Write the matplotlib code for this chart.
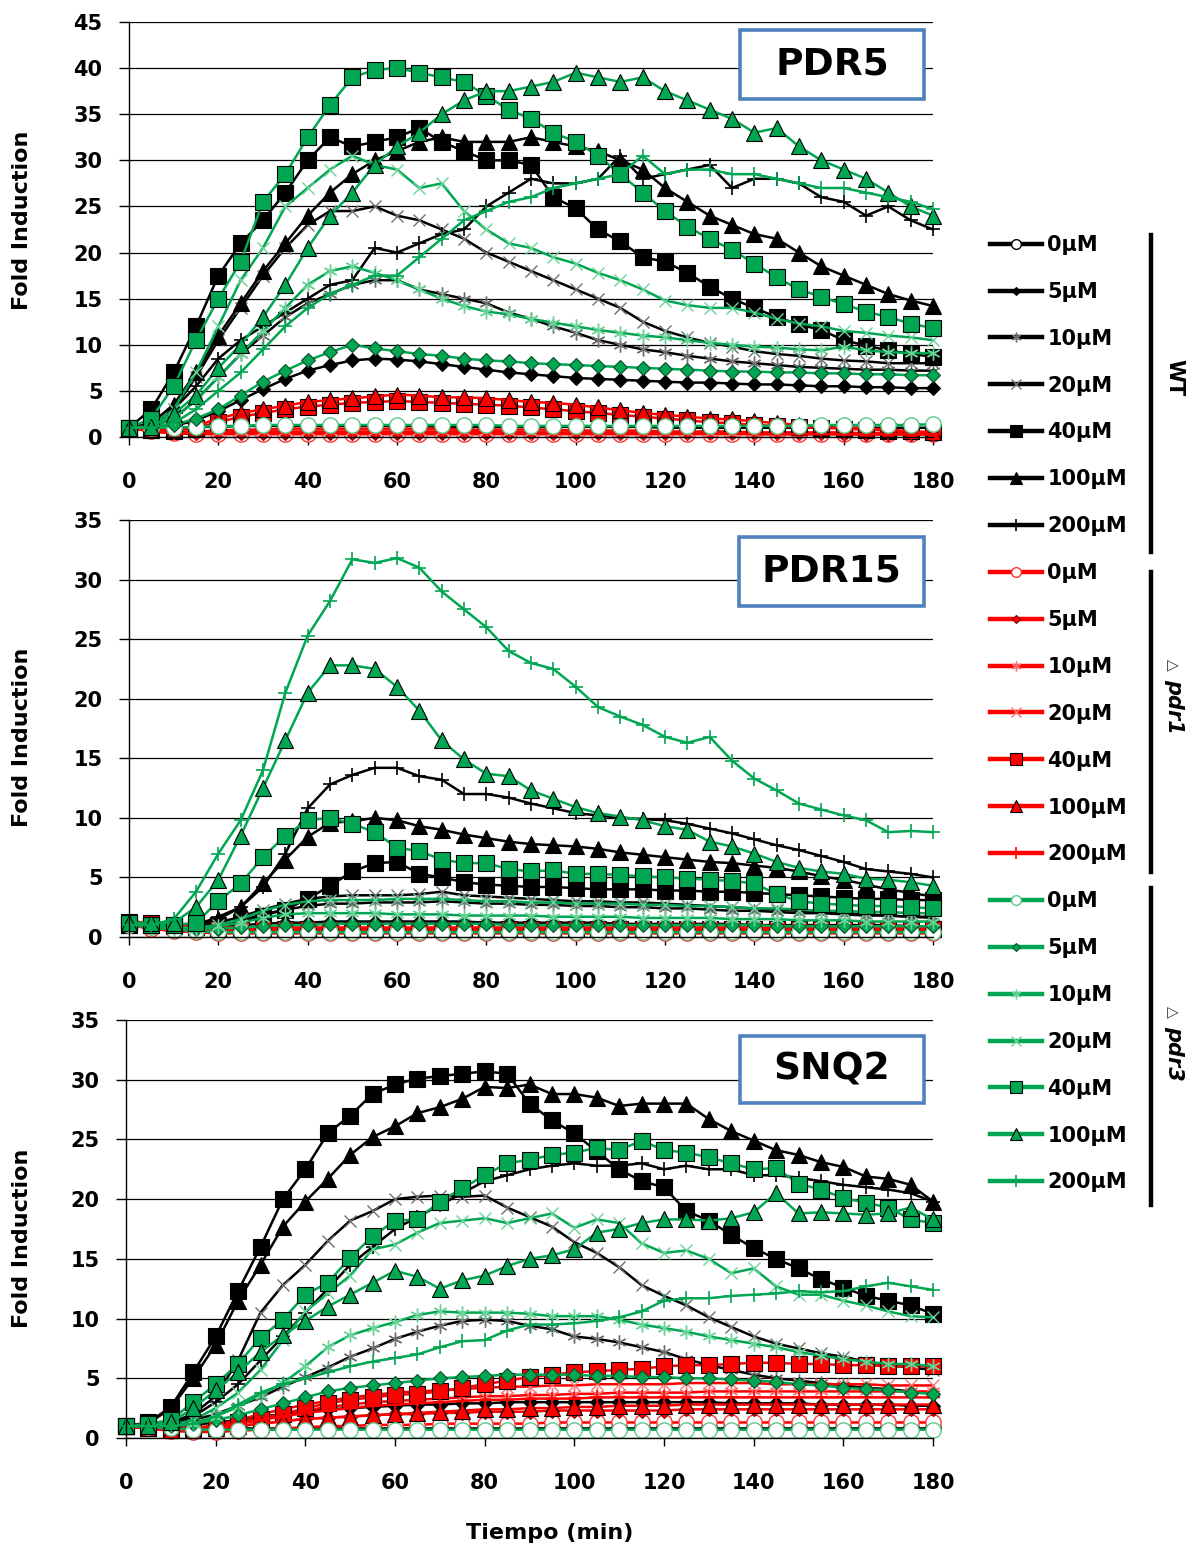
import matplotlib
matplotlib.use("Agg")
import matplotlib.pyplot as plt
from matplotlib.lines import Line2D
from matplotlib.patches import Rectangle

W, H = 1194, 1548

TIME_MIN = list(range(0, 185, 5))
CONCENTRATIONS = ["0μM", "5μM", "10μM", "20μM", "40μM", "100μM", "200μM"]
STRAINS = ["WT", "d1", "d3"]
GENES = ["PDR5", "PDR15", "SNQ2"]
GENE_YMAX = [45, 35, 35]

# ---------------- PDR5 ----------------
pdr5_wt_0 = [1.0, 1.0, 1.0, 1.1, 1.1, 1.2, 1.2, 1.2, 1.2, 1.2,
             1.2, 1.2, 1.2, 1.2, 1.1, 1.1, 1.1, 1.1, 1.1, 1.1,
             1.1, 1.1, 1.1, 1.1, 1.0, 1.0, 1.0, 1.0, 1.0, 1.0,
             1.0, 1.0, 1.0, 1.0, 1.0, 1.0, 1.0]
pdr5_wt_5 = [1.0, 1.0, 1.2, 1.8, 2.8, 4.0, 5.2, 6.3, 7.2, 7.8,
             8.3, 8.5, 8.4, 8.2, 7.9, 7.6, 7.3, 7.0, 6.8, 6.6,
             6.4, 6.3, 6.2, 6.1, 6.0, 5.9, 5.9, 5.8, 5.7, 5.7,
             5.6, 5.5, 5.5, 5.4, 5.4, 5.3, 5.3]
pdr5_wt_10 = [1.0, 1.1, 2.0, 4.0, 6.5, 9.0, 11.0, 13.0, 14.5, 15.5,
              16.5, 17.0, 17.0, 16.0, 15.5, 15.0, 14.5, 13.5, 12.8, 12.0,
              11.3, 10.5, 10.0, 9.5, 9.2, 8.8, 8.5, 8.2, 8.0, 7.8,
              7.6, 7.5, 7.4, 7.3, 7.3, 7.2, 7.2]
pdr5_wt_20 = [1.0, 1.2, 3.0, 6.5, 10.5, 14.0, 17.5, 20.5, 23.0, 24.5,
              24.5, 25.0, 24.0, 23.5, 22.5, 21.5, 20.0, 19.0, 18.0, 17.0,
              16.0, 15.0, 14.0, 12.5, 11.5, 10.8, 10.2, 9.8, 9.3, 9.0,
              8.8, 8.5, 8.3, 8.2, 8.0, 8.0, 8.0]
pdr5_wt_40 = [1.0, 3.0, 7.0, 12.0, 17.5, 21.0, 23.5, 26.5, 30.0, 32.5,
              31.5, 32.0, 32.5, 33.5, 32.0, 31.0, 30.0, 30.0, 29.5, 26.0,
              24.8, 22.5, 21.2, 19.5, 19.0, 17.8, 16.3, 15.0, 14.0, 13.0,
              12.2, 11.6, 10.5, 9.9, 9.4, 9.0, 8.7]
pdr5_wt_100 = [1.0, 1.5, 3.5, 7.0, 11.0, 14.5, 18.0, 21.0, 24.0, 26.5,
               28.5, 30.0, 31.0, 32.0, 32.5, 32.0, 32.0, 32.0, 32.5, 32.0,
               31.5, 31.0, 30.0, 29.0, 27.0, 25.5, 24.0, 23.0, 22.0, 21.5,
               20.0, 18.5, 17.5, 16.5, 15.5, 14.8, 14.2]
pdr5_wt_200 = [1.0, 1.2, 3.0, 5.5, 8.5, 10.5, 12.0, 13.5, 15.0, 16.5,
               17.0, 20.5, 20.0, 21.0, 22.0, 22.5, 25.0, 26.5, 28.0, 27.5,
               27.5, 28.0, 30.5, 28.0, 28.5, 29.0, 29.5, 27.0, 28.0, 28.0,
               27.5, 26.0, 25.5, 24.0, 25.0, 23.5, 22.5]
pdr5_d1_0 = [1.0, 0.6, 0.4, 0.3, 0.3, 0.3, 0.3, 0.3, 0.3, 0.3,
             0.3, 0.3, 0.3, 0.3, 0.3, 0.3, 0.3, 0.3, 0.3, 0.3,
             0.3, 0.3, 0.3, 0.3, 0.3, 0.3, 0.3, 0.3, 0.3, 0.3,
             0.3, 0.3, 0.3, 0.3, 0.3, 0.3, 0.3]
pdr5_d1_5 = [1.0, 0.7, 0.5, 0.4, 0.4, 0.4, 0.4, 0.4, 0.4, 0.4,
             0.4, 0.4, 0.4, 0.4, 0.4, 0.4, 0.4, 0.4, 0.4, 0.4,
             0.4, 0.4, 0.4, 0.4, 0.4, 0.4, 0.4, 0.4, 0.4, 0.4,
             0.4, 0.4, 0.3, 0.3, 0.3, 0.3, 0.3]
pdr5_d1_10 = [1.0, 0.7, 0.5, 0.5, 0.5, 0.6, 0.6, 0.6, 0.6, 0.6,
              0.6, 0.6, 0.6, 0.6, 0.6, 0.6, 0.6, 0.5, 0.5, 0.5,
              0.5, 0.5, 0.5, 0.5, 0.5, 0.5, 0.4, 0.4, 0.4, 0.4,
              0.4, 0.4, 0.4, 0.4, 0.4, 0.4, 0.4]
pdr5_d1_20 = [1.0, 0.7, 0.6, 0.6, 0.7, 0.8, 0.8, 0.9, 0.9, 0.9,
              0.9, 0.9, 0.9, 0.9, 0.9, 0.8, 0.8, 0.8, 0.8, 0.8,
              0.7, 0.7, 0.7, 0.7, 0.6, 0.6, 0.6, 0.6, 0.5, 0.5,
              0.5, 0.5, 0.5, 0.4, 0.4, 0.4, 0.4]
pdr5_d1_40 = [1.0, 0.8, 0.7, 1.0, 1.6, 2.2, 2.6, 3.0, 3.3, 3.5,
              3.7, 3.8, 3.9, 3.8, 3.7, 3.6, 3.5, 3.4, 3.2, 3.0,
              2.8, 2.6, 2.4, 2.2, 2.0, 1.8, 1.6, 1.5, 1.3, 1.2,
              1.1, 1.0, 0.9, 0.8, 0.7, 0.6, 0.5]
pdr5_d1_100 = [1.0, 0.8, 0.8, 1.2, 2.0, 2.6, 3.0, 3.4, 3.8, 4.0,
               4.2, 4.4, 4.6, 4.5, 4.3, 4.3, 4.2, 4.0, 3.8, 3.7,
               3.5, 3.2, 2.9, 2.6, 2.4, 2.2, 2.0, 1.9, 1.7, 1.5,
               1.3, 1.1, 1.0, 0.9, 0.8, 0.6, 0.5]
pdr5_d1_200 = [1.0, 0.6, 0.4, 0.4, 0.4, 0.5, 0.5, 0.5, 0.5, 0.5,
               0.5, 0.5, 0.5, 0.5, 0.5, 0.5, 0.5, 0.5, 0.5, 0.4,
               0.4, 0.4, 0.4, 0.4, 0.4, 0.4, 0.4, 0.4, 0.3, 0.3,
               0.3, 0.3, 0.3, 0.3, 0.3, 0.3, 0.3]
pdr5_d3_0 = [1.0, 1.0, 1.0, 1.1, 1.2, 1.2, 1.3, 1.3, 1.3, 1.3,
             1.3, 1.3, 1.3, 1.3, 1.3, 1.3, 1.3, 1.2, 1.2, 1.2,
             1.2, 1.2, 1.2, 1.2, 1.2, 1.2, 1.2, 1.2, 1.2, 1.2,
             1.2, 1.3, 1.3, 1.3, 1.3, 1.3, 1.4]
pdr5_d3_5 = [1.0, 1.0, 1.3, 2.0, 3.0, 4.5, 6.0, 7.2, 8.3, 9.2,
             10.0, 9.6, 9.3, 9.0, 8.8, 8.5, 8.3, 8.2, 8.0, 7.9,
             7.8, 7.7, 7.6, 7.5, 7.4, 7.3, 7.2, 7.1, 7.1, 7.0,
             7.0, 6.9, 6.9, 6.8, 6.8, 6.7, 6.7]
pdr5_d3_10 = [1.0, 1.1, 2.0, 4.0, 6.5, 9.0, 11.5, 14.0, 16.5, 18.0,
              18.5, 17.8, 17.0, 16.0, 15.0, 14.2, 13.6, 13.3, 12.8, 12.4,
              12.0, 11.6, 11.3, 11.0, 10.8, 10.5, 10.2, 10.0, 9.8, 9.7,
              9.5, 9.4, 9.8, 9.4, 9.2, 9.1, 9.1]
pdr5_d3_20 = [1.0, 1.2, 3.0, 7.0, 12.0, 17.0, 20.5, 25.0, 27.0, 29.0,
              30.5, 29.5, 29.0, 27.0, 27.5, 24.5, 22.5, 21.0, 20.5, 19.5,
              18.8, 17.8, 17.0, 16.0, 14.8, 14.3, 14.0, 14.0, 13.5, 12.8,
              12.3, 12.0, 11.5, 11.3, 11.0, 10.8, 10.5]
pdr5_d3_40 = [1.0, 2.0, 5.5, 10.5, 15.0, 19.0, 25.5, 28.5, 32.5, 36.0,
              39.0, 39.8, 40.0, 39.5, 39.0, 38.5, 37.0, 35.5, 34.5, 33.0,
              32.0, 30.5, 28.5, 26.5, 24.5, 22.8, 21.5, 20.3, 18.8, 17.3,
              16.0, 15.2, 14.4, 13.6, 13.0, 12.3, 11.8]
pdr5_d3_100 = [1.0, 1.1, 2.5, 4.5, 7.5, 10.0, 13.0, 16.5, 20.5, 24.0,
               26.5, 29.5, 31.5, 33.0, 35.0, 36.5, 37.5, 37.5, 38.0, 38.5,
               39.5, 39.0, 38.5, 39.0, 37.5, 36.5, 35.5, 34.5, 33.0, 33.5,
               31.5, 30.0, 29.0, 28.0, 26.5, 25.0, 24.0]
pdr5_d3_200 = [1.0, 1.0, 1.5, 3.0, 5.0, 7.0, 9.5, 12.0, 14.0, 15.5,
               16.5, 17.5, 17.5, 19.5, 21.5, 23.5, 24.5, 25.5, 26.0, 27.0,
               27.5, 28.0, 28.5, 30.5, 28.5, 29.0, 29.0, 28.5, 28.5, 28.0,
               27.5, 27.0, 27.0, 26.5, 26.0, 25.5, 24.7]

# ---------------- PDR15 ----------------
pdr15_wt_0 = [1.0, 0.8, 0.7, 0.6, 0.6, 0.6, 0.6, 0.6, 0.6, 0.6,
              0.6, 0.6, 0.6, 0.6, 0.6, 0.6, 0.6, 0.6, 0.6, 0.6,
              0.6, 0.6, 0.6, 0.6, 0.6, 0.6, 0.6, 0.6, 0.6, 0.6,
              0.6, 0.6, 0.6, 0.6, 0.6, 0.6, 0.6]
pdr15_wt_5 = [1.0, 0.9, 0.8, 0.8, 0.9, 1.0, 1.1, 1.2, 1.2, 1.3,
              1.3, 1.3, 1.3, 1.3, 1.3, 1.3, 1.2, 1.2, 1.2, 1.2,
              1.2, 1.2, 1.1, 1.1, 1.1, 1.1, 1.1, 1.1, 1.0, 1.0,
              1.0, 1.0, 1.0, 1.0, 1.0, 0.9, 0.9]
pdr15_wt_10 = [1.0, 0.9, 0.8, 0.8, 1.0, 1.4, 1.9, 2.3, 2.6, 2.8,
               2.8, 2.9, 2.9, 2.9, 3.0, 2.9, 2.8, 2.8, 2.7, 2.7,
               2.6, 2.6, 2.5, 2.5, 2.4, 2.4, 2.3, 2.2, 2.2, 2.1,
               2.0, 2.0, 1.9, 1.8, 1.8, 1.7, 1.7]
pdr15_wt_20 = [1.0, 1.0, 0.8, 0.9, 1.2, 1.7, 2.3, 2.8, 3.2, 3.4,
               3.5, 3.5, 3.5, 3.6, 3.8, 3.5, 3.4, 3.3, 3.2, 3.1,
               3.0, 3.0, 2.9, 2.9, 2.8, 2.7, 2.6, 2.5, 2.4, 2.3,
               2.2, 2.1, 2.0, 1.9, 1.8, 1.7, 1.6]
pdr15_wt_40 = [1.0, 1.0, 0.9, 0.9, 1.0, 1.3, 1.8, 2.3, 3.2, 4.3,
               5.5, 6.2, 6.3, 5.3, 5.0, 4.6, 4.4, 4.3, 4.2, 4.2,
               4.1, 4.0, 4.0, 4.0, 3.9, 3.9, 3.8, 3.8, 3.7, 3.6,
               3.5, 3.4, 3.3, 3.2, 3.2, 3.1, 3.1]
pdr15_wt_100 = [1.0, 1.0, 0.9, 1.0, 1.5, 2.5, 4.5, 6.5, 8.4, 9.6,
                9.7, 10.0, 9.8, 9.3, 9.0, 8.6, 8.3, 8.0, 7.8, 7.7,
                7.6, 7.4, 7.1, 6.9, 6.7, 6.5, 6.3, 6.2, 6.0, 5.8,
                5.5, 5.1, 4.8, 4.4, 4.0, 3.7, 3.4]
pdr15_wt_200 = [1.0, 1.0, 0.9, 1.0, 1.7, 2.5, 4.2, 7.0, 10.8, 12.8,
                13.6, 14.2, 14.2, 13.5, 13.2, 12.0, 12.0, 11.7, 11.2, 10.8,
                10.4, 10.2, 10.0, 9.9, 9.8, 9.5, 9.1, 8.7, 8.2, 7.7,
                7.3, 6.8, 6.3, 5.7, 5.5, 5.3, 5.0]
pdr15_d1_0 = [1.0, 0.7, 0.5, 0.4, 0.3, 0.3, 0.3, 0.3, 0.3, 0.3,
              0.3, 0.3, 0.3, 0.3, 0.3, 0.3, 0.3, 0.3, 0.3, 0.3,
              0.3, 0.3, 0.3, 0.3, 0.3, 0.3, 0.3, 0.3, 0.3, 0.3,
              0.3, 0.3, 0.3, 0.3, 0.3, 0.3, 0.3]
pdr15_d1_5 = [1.2, 0.9, 0.6, 0.5, 0.5, 0.5, 0.5, 0.5, 0.5, 0.5,
              0.5, 0.5, 0.5, 0.5, 0.5, 0.5, 0.5, 0.5, 0.5, 0.5,
              0.5, 0.5, 0.5, 0.5, 0.5, 0.5, 0.5, 0.5, 0.5, 0.5,
              0.5, 0.5, 0.5, 0.5, 0.5, 0.5, 0.5]
pdr15_d1_10 = [1.0, 0.8, 0.6, 0.5, 0.5, 0.6, 0.6, 0.6, 0.6, 0.6,
               0.6, 0.6, 0.6, 0.6, 0.6, 0.6, 0.6, 0.6, 0.6, 0.6,
               0.6, 0.6, 0.6, 0.6, 0.6, 0.6, 0.6, 0.6, 0.6, 0.6,
               0.6, 0.6, 0.6, 0.6, 0.6, 0.6, 0.6]
pdr15_d1_20 = [1.0, 0.8, 0.6, 0.6, 0.6, 0.7, 0.7, 0.7, 0.7, 0.7,
               0.7, 0.7, 0.7, 0.7, 0.7, 0.7, 0.7, 0.7, 0.7, 0.7,
               0.7, 0.7, 0.7, 0.7, 0.7, 0.7, 0.7, 0.7, 0.7, 0.7,
               0.7, 0.7, 0.7, 0.7, 0.7, 0.7, 0.7]
pdr15_d1_40 = [1.3, 1.2, 1.0, 0.8, 0.7, 0.7, 0.7, 0.7, 0.7, 0.7,
               0.7, 0.7, 0.7, 0.7, 0.7, 0.7, 0.7, 0.7, 0.7, 0.7,
               0.7, 0.7, 0.7, 0.7, 0.7, 0.7, 0.7, 0.7, 0.7, 0.7,
               0.7, 0.7, 0.7, 0.7, 0.7, 0.7, 0.7]
pdr15_d1_100 = [1.2, 1.2, 1.0, 0.8, 0.8, 0.8, 0.8, 0.8, 0.8, 0.8,
                0.8, 0.8, 0.8, 0.8, 0.8, 0.8, 0.8, 0.8, 0.8, 0.8,
                0.8, 0.8, 0.8, 0.8, 0.8, 0.8, 0.8, 0.8, 0.8, 0.8,
                0.8, 0.8, 0.8, 0.8, 0.8, 0.8, 0.8]
pdr15_d1_200 = [1.0, 0.7, 0.5, 0.4, 0.4, 0.4, 0.4, 0.4, 0.4, 0.4,
                0.4, 0.4, 0.4, 0.4, 0.4, 0.4, 0.4, 0.4, 0.4, 0.4,
                0.4, 0.4, 0.4, 0.4, 0.4, 0.4, 0.4, 0.4, 0.4, 0.4,
                0.4, 0.4, 0.4, 0.4, 0.4, 0.4, 0.4]
pdr15_d3_0 = [1.0, 0.8, 0.6, 0.5, 0.4, 0.4, 0.4, 0.4, 0.4, 0.4,
              0.4, 0.4, 0.4, 0.4, 0.4, 0.4, 0.4, 0.4, 0.4, 0.4,
              0.4, 0.4, 0.4, 0.4, 0.4, 0.4, 0.4, 0.4, 0.4, 0.4,
              0.4, 0.4, 0.4, 0.4, 0.4, 0.4, 0.4]
pdr15_d3_5 = [1.2, 1.0, 0.8, 0.7, 0.7, 0.8, 0.9, 1.0, 1.0, 1.1,
              1.1, 1.1, 1.1, 1.1, 1.1, 1.1, 1.1, 1.0, 1.0, 1.0,
              1.0, 1.0, 1.0, 1.0, 1.0, 1.0, 1.0, 1.0, 1.0, 0.9,
              0.9, 0.9, 0.9, 0.9, 0.9, 0.9, 0.9]
pdr15_d3_10 = [1.0, 0.9, 0.7, 0.7, 0.9, 1.2, 1.6, 1.9, 2.0, 2.0,
               2.0, 2.0, 1.9, 1.9, 1.9, 1.8, 1.8, 1.8, 1.8, 1.7,
               1.7, 1.7, 1.7, 1.6, 1.6, 1.6, 1.6, 1.5, 1.5, 1.5,
               1.4, 1.4, 1.4, 1.3, 1.3, 1.3, 1.3]
pdr15_d3_20 = [1.0, 0.9, 0.8, 0.8, 1.0, 1.5, 2.2, 2.7, 3.0, 3.1,
               3.1, 3.1, 3.2, 3.2, 3.2, 3.1, 3.0, 3.0, 2.9, 2.9,
               2.8, 2.8, 2.8, 2.7, 2.7, 2.6, 2.6, 2.5, 2.4, 2.4,
               2.3, 2.2, 2.2, 2.1, 2.1, 2.0, 2.0]
pdr15_d3_40 = [1.2, 1.0, 1.0, 1.2, 3.0, 4.5, 6.7, 8.5, 9.8, 10.0,
               9.5, 8.8, 7.5, 7.2, 6.5, 6.2, 6.2, 5.7, 5.5, 5.6,
               5.3, 5.3, 5.2, 5.1, 5.0, 4.9, 4.8, 4.7, 4.5, 3.6,
               3.0, 2.8, 2.7, 2.6, 2.6, 2.5, 2.4]
pdr15_d3_100 = [1.2, 1.2, 1.2, 2.5, 4.8, 8.5, 12.5, 16.5, 20.5, 22.8,
                22.8, 22.5, 21.0, 19.0, 16.5, 14.9, 13.7, 13.5, 12.3, 11.6,
                10.9, 10.4, 10.1, 9.8, 9.3, 9.0, 8.0, 7.6, 7.0, 6.3,
                5.8, 5.5, 5.3, 4.9, 4.8, 4.6, 4.3]
pdr15_d3_200 = [1.0, 1.0, 1.5, 3.8, 7.0, 9.8, 14.0, 20.5, 25.3, 28.2,
                31.7, 31.4, 31.8, 31.0, 29.0, 27.5, 26.0, 24.0, 23.0, 22.5,
                21.0, 19.3, 18.5, 17.8, 16.8, 16.3, 16.8, 14.8, 13.3, 12.3,
                11.2, 10.7, 10.2, 9.8, 8.8, 8.9, 8.8]

# ---------------- SNQ2 ----------------
snq2_wt_0 = [1.0, 0.9, 0.8, 0.8, 0.8, 0.8, 0.8, 0.8, 0.8, 0.8,
             0.8, 0.8, 0.8, 0.8, 0.8, 0.8, 0.8, 0.8, 0.8, 0.8,
             0.8, 0.8, 0.8, 0.8, 0.8, 0.8, 0.8, 0.8, 0.8, 0.8,
             0.8, 0.8, 0.8, 0.8, 0.8, 0.8, 0.8]
snq2_wt_5 = [1.0, 1.0, 1.0, 1.1, 1.3, 1.5, 1.8, 2.0, 2.2, 2.4,
             2.5, 2.6, 2.7, 2.8, 2.8, 2.9, 2.9, 3.0, 3.0, 3.0,
             3.0, 3.0, 3.0, 3.0, 3.0, 3.0, 3.0, 2.9, 2.9, 2.9,
             2.9, 2.8, 2.8, 2.8, 2.8, 2.7, 2.7]
snq2_wt_10 = [1.0, 1.0, 1.1, 1.5, 2.0, 2.7, 3.4, 4.3, 5.1, 5.9,
              6.8, 7.5, 8.3, 8.9, 9.4, 9.8, 9.9, 9.8, 9.4, 9.1,
              8.5, 8.3, 8.0, 7.6, 7.2, 6.6, 6.1, 5.7, 5.3, 5.0,
              4.8, 4.6, 4.4, 4.2, 4.1, 3.9, 3.7]
snq2_wt_20 = [1.0, 1.0, 1.3, 2.0, 3.5, 6.5, 10.5, 12.8, 14.5, 16.5,
              18.2, 19.0, 20.0, 20.2, 20.3, 20.2, 20.3, 19.3, 18.5, 17.7,
              16.4, 15.5, 14.3, 12.8, 11.9, 11.1, 10.1, 9.3, 8.5, 7.9,
              7.5, 7.1, 6.8, 6.4, 6.1, 5.9, 5.7]
snq2_wt_40 = [1.0, 1.3, 2.6, 5.5, 8.5, 12.3, 16.0, 20.0, 22.5, 25.5,
              27.0, 28.8, 29.6, 30.1, 30.3, 30.5, 30.7, 30.5, 28.0, 26.6,
              25.5, 24.0, 22.5, 21.5, 21.0, 19.0, 18.2, 17.0, 15.9, 15.0,
              14.2, 13.3, 12.6, 11.9, 11.5, 11.1, 10.4]
snq2_wt_100 = [1.0, 1.2, 2.5, 5.0, 7.8, 11.5, 14.5, 17.7, 19.8, 21.7,
               23.7, 25.2, 26.1, 27.2, 27.7, 28.4, 29.4, 29.3, 29.6, 28.8,
               28.8, 28.5, 27.8, 28.0, 28.0, 28.0, 26.7, 25.7, 24.9, 24.1,
               23.7, 23.1, 22.7, 21.9, 21.7, 21.2, 19.8]
snq2_wt_200 = [1.0, 1.0, 1.2, 1.8, 3.0, 4.5, 6.5, 8.5, 10.5, 12.5,
               14.5, 16.0, 17.5, 18.5, 19.5, 20.5, 21.5, 22.0, 22.5, 22.8,
               23.0, 22.8, 22.8, 23.0, 22.5, 22.8, 22.5, 22.5, 22.0, 22.0,
               21.8, 21.5, 21.2, 21.0, 20.8, 20.5, 19.8]
snq2_d1_0 = [1.0, 0.8, 0.6, 0.5, 0.5, 0.6, 0.7, 0.8, 0.9, 1.0,
             1.0, 1.1, 1.1, 1.1, 1.2, 1.2, 1.2, 1.2, 1.2, 1.3,
             1.3, 1.3, 1.3, 1.3, 1.3, 1.3, 1.3, 1.3, 1.3, 1.3,
             1.3, 1.3, 1.3, 1.3, 1.3, 1.3, 1.3]
snq2_d1_5 = [1.0, 0.8, 0.7, 0.7, 0.8, 1.0, 1.2, 1.4, 1.6, 1.7,
             1.8, 1.9, 2.0, 2.0, 2.1, 2.1, 2.2, 2.2, 2.2, 2.3,
             2.3, 2.3, 2.3, 2.3, 2.3, 2.4, 2.4, 2.4, 2.4, 2.4,
             2.4, 2.4, 2.4, 2.4, 2.4, 2.4, 2.4]
snq2_d1_10 = [1.0, 0.8, 0.7, 0.8, 1.0, 1.3, 1.7, 2.0, 2.3, 2.6,
              2.8, 3.0, 3.1, 3.2, 3.3, 3.4, 3.5, 3.5, 3.6, 3.6,
              3.7, 3.7, 3.8, 3.8, 3.8, 3.8, 3.9, 3.9, 3.9, 3.9,
              3.9, 3.9, 3.9, 3.9, 3.9, 3.9, 3.9]
snq2_d1_20 = [1.0, 0.8, 0.7, 0.8, 1.1, 1.5, 2.0, 2.4, 2.8, 3.1,
              3.4, 3.6, 3.8, 3.9, 4.0, 4.1, 4.2, 4.3, 4.3, 4.4,
              4.4, 4.5, 4.5, 4.5, 4.5, 4.6, 4.6, 4.6, 4.6, 4.5,
              4.5, 4.5, 4.5, 4.5, 4.4, 4.4, 4.4]
snq2_d1_40 = [1.0, 0.8, 0.7, 0.8, 1.0, 1.3, 1.6, 2.0, 2.5, 2.9,
              3.2, 3.4, 3.6, 3.7, 3.9, 4.2, 4.5, 4.8, 5.1, 5.3,
              5.5, 5.6, 5.7, 5.8, 6.0, 6.1, 6.1, 6.2, 6.3, 6.3,
              6.2, 6.2, 6.1, 6.1, 6.0, 6.0, 6.0]
snq2_d1_100 = [1.0, 0.8, 0.7, 0.7, 0.8, 1.0, 1.2, 1.4, 1.6, 1.7,
               1.8, 1.9, 2.0, 2.1, 2.2, 2.3, 2.4, 2.4, 2.5, 2.5,
               2.6, 2.6, 2.7, 2.7, 2.7, 2.8, 2.8, 2.8, 2.8, 2.8,
               2.8, 2.8, 2.8, 2.8, 2.8, 2.8, 2.8]
snq2_d1_200 = [1.0, 0.8, 0.7, 0.8, 1.0, 1.2, 1.5, 1.8, 2.1, 2.3,
               2.5, 2.7, 2.8, 2.9, 3.0, 3.1, 3.2, 3.2, 3.3, 3.3,
               3.3, 3.4, 3.4, 3.4, 3.4, 3.4, 3.4, 3.4, 3.4, 3.4,
               3.4, 3.4, 3.4, 3.4, 3.4, 3.4, 3.4]
snq2_d3_0 = [1.0, 0.9, 0.8, 0.7, 0.7, 0.7, 0.7, 0.7, 0.7, 0.7,
             0.7, 0.7, 0.7, 0.7, 0.7, 0.7, 0.7, 0.7, 0.7, 0.7,
             0.7, 0.7, 0.7, 0.7, 0.7, 0.7, 0.7, 0.7, 0.7, 0.7,
             0.7, 0.7, 0.7, 0.7, 0.7, 0.7, 0.7]
snq2_d3_5 = [1.0, 1.0, 1.0, 1.2, 1.5, 1.9, 2.4, 2.9, 3.4, 3.9,
             4.2, 4.4, 4.6, 4.8, 5.0, 5.1, 5.2, 5.3, 5.3, 5.3,
             5.3, 5.2, 5.2, 5.1, 5.1, 5.0, 5.0, 4.9, 4.8, 4.7,
             4.5, 4.4, 4.2, 4.1, 4.0, 3.8, 3.7]
snq2_d3_10 = [1.0, 1.0, 1.0, 1.2, 1.8, 2.6, 3.6, 4.6, 6.0, 7.6,
              8.6, 9.2, 9.7, 10.3, 10.6, 10.5, 10.5, 10.5, 10.4, 10.2,
              10.2, 10.2, 9.9, 9.5, 9.2, 8.9, 8.5, 8.2, 7.9, 7.6,
              7.2, 6.9, 6.6, 6.4, 6.2, 6.2, 6.0]
snq2_d3_20 = [1.0, 1.0, 1.1, 1.5, 2.5, 3.8, 5.7, 8.2, 10.6, 12.1,
              13.6, 15.8, 16.2, 17.2, 18.0, 18.2, 18.4, 18.0, 18.4, 18.8,
              17.6, 18.3, 18.0, 16.3, 15.5, 15.7, 15.0, 13.8, 14.2, 12.7,
              12.0, 12.0, 11.5, 11.1, 10.6, 10.2, 10.1]
snq2_d3_40 = [1.0, 1.2, 1.5, 3.0, 4.5, 6.2, 8.4, 9.9, 12.0, 13.0,
              15.1, 16.9, 18.2, 18.3, 19.8, 20.9, 22.0, 23.0, 23.3, 23.7,
              23.9, 24.3, 24.1, 24.9, 24.1, 23.9, 23.5, 23.0, 22.5, 22.6,
              21.3, 20.8, 20.1, 19.7, 19.3, 18.3, 18.0]
snq2_d3_100 = [1.0, 1.0, 1.3, 2.5, 4.0, 5.5, 7.2, 8.6, 9.8, 11.0,
               12.0, 13.0, 14.0, 13.5, 12.5, 13.2, 13.6, 14.4, 15.0, 15.3,
               15.8, 17.2, 17.5, 18.0, 18.3, 18.3, 18.2, 18.4, 18.9, 20.5,
               18.8, 18.9, 18.8, 18.7, 18.8, 19.3, 18.3]
snq2_d3_200 = [1.0, 1.0, 1.0, 1.2, 1.8, 2.8, 3.8, 4.5, 5.0, 5.5,
               6.0, 6.4, 6.7, 7.0, 7.6, 8.1, 8.2, 9.0, 9.5, 9.5,
               9.6, 9.8, 10.1, 10.6, 11.5, 11.7, 11.7, 11.9, 12.0, 12.1,
               12.3, 12.2, 12.3, 12.7, 13.0, 12.7, 12.4]

SERIES = {
    "PDR5": {
        "WT": [pdr5_wt_0, pdr5_wt_5, pdr5_wt_10, pdr5_wt_20, pdr5_wt_40, pdr5_wt_100, pdr5_wt_200],
        "d1": [pdr5_d1_0, pdr5_d1_5, pdr5_d1_10, pdr5_d1_20, pdr5_d1_40, pdr5_d1_100, pdr5_d1_200],
        "d3": [pdr5_d3_0, pdr5_d3_5, pdr5_d3_10, pdr5_d3_20, pdr5_d3_40, pdr5_d3_100, pdr5_d3_200],
    },
    "PDR15": {
        "WT": [pdr15_wt_0, pdr15_wt_5, pdr15_wt_10, pdr15_wt_20, pdr15_wt_40, pdr15_wt_100, pdr15_wt_200],
        "d1": [pdr15_d1_0, pdr15_d1_5, pdr15_d1_10, pdr15_d1_20, pdr15_d1_40, pdr15_d1_100, pdr15_d1_200],
        "d3": [pdr15_d3_0, pdr15_d3_5, pdr15_d3_10, pdr15_d3_20, pdr15_d3_40, pdr15_d3_100, pdr15_d3_200],
    },
    "SNQ2": {
        "WT": [snq2_wt_0, snq2_wt_5, snq2_wt_10, snq2_wt_20, snq2_wt_40, snq2_wt_100, snq2_wt_200],
        "d1": [snq2_d1_0, snq2_d1_5, snq2_d1_10, snq2_d1_20, snq2_d1_40, snq2_d1_100, snq2_d1_200],
        "d3": [snq2_d3_0, snq2_d3_5, snq2_d3_10, snq2_d3_20, snq2_d3_40, snq2_d3_100, snq2_d3_200],
    },
}

# colours: main, light (x / asterisk markers, open circles), diamond edge
STRAIN_STYLE = {
    "WT": dict(color="#000000", light="#707070", circle="#000000", dedge="#000000"),
    "d1": dict(color="#FF0000", light="#FF7373", circle="#FF3030", dedge="#7a0000"),
    "d3": dict(color="#00A651", light="#6CD398", circle="#5CC98A", dedge="#0b4d28"),
}


def marker_kw(conc, strain, legend=False):
    st = STRAIN_STYLE[strain]
    c = st["color"]
    if conc == "0μM":
        return dict(marker="o", ms=7 if legend else 11, mfc="white", mec=st["circle"], mew=1.0)
    if conc == "5μM":
        return dict(marker="D", ms=4.5 if legend else 7.5, mfc=c, mec=st["dedge"], mew=0.8)
    if conc == "10μM":
        return dict(marker=(6, 2, 0), ms=7 if legend else 10, mec=st["light"], mew=1.0)
    if conc == "20μM":
        return dict(marker="x", ms=6.5 if legend else 9, mec=st["light"], mew=1.0)
    if conc == "40μM":
        return dict(marker="s", ms=8 if legend else 12, mfc=c, mec="black", mew=0.8)
    if conc == "100μM":
        return dict(marker="^", ms=8 if legend else 12, mfc=c, mec="black", mew=0.8)
    return dict(marker="+", ms=8 if legend else 10, mec=c, mew=1.2)


plt.rcParams["font.family"] = "DejaVu Sans"
plt.rcParams["font.weight"] = "bold"


def fx(px):
    return px / W


def fy(py):
    return 1 - py / H


fig = plt.figure(figsize=(W / 100, H / 100), dpi=100)

# left, top, right, bottom of each plot area in pixels
AX_PX = [(129, 22, 933, 437), (129, 520, 933, 937), (126, 1020, 933, 1438)]
BOX_PX = [(740, 30, 924, 99), (739, 537, 924, 606), (740, 1036, 924, 1103)]
YLABEL_Y = [220, 737, 1238]

for gene, ymax, (l, t, r, b), (bl, bt, br, bb), yl in zip(GENES, GENE_YMAX, AX_PX, BOX_PX, YLABEL_Y):
    for strain in STRAINS:
        for vals in SERIES[gene][strain]:
            assert len(vals) == len(TIME_MIN)
    ax = fig.add_axes([fx(l), fy(b), (r - l) / W, (b - t) / H])
    for strain in STRAINS:
        for conc, vals in zip(CONCENTRATIONS, SERIES[gene][strain]):
            ax.plot(TIME_MIN, vals, color=STRAIN_STYLE[strain]["color"], lw=1.8,
                    clip_on=False, **marker_kw(conc, strain))
    ax.set_xlim(0, 180)
    ax.set_ylim(0, ymax)
    ax.set_xticks(range(0, 181, 20))
    ax.set_yticks(range(0, ymax + 1, 5))
    ax.tick_params(axis="y", direction="out", length=7, width=1, pad=12, labelsize=15)
    ax.tick_params(axis="x", direction="out", length=6, width=1, pad=19, labelsize=15)
    for side in ("top", "right"):
        ax.spines[side].set_visible(False)
    for side in ("left", "bottom"):
        ax.spines[side].set_color("black")
        ax.spines[side].set_linewidth(1.0)
    ax.yaxis.grid(True, color="black", linewidth=0.9)
    ax.set_axisbelow(True)

    fig.text(fx(22), fy(yl), "Fold Induction", rotation=90, ha="center", va="center",
             fontsize=16, fontweight="bold")
    fig.add_artist(Rectangle((fx(bl), fy(bb)), (br - bl) / W, (bb - bt) / H,
                             transform=fig.transFigure, facecolor="white",
                             edgecolor="#4F81BD", linewidth=2.6, zorder=5))
    fig.text(fx((bl + br) / 2), fy((bt + bb) / 2), gene, ha="center", va="center",
             fontsize=27, fontweight="bold", zorder=6)

fig.text(fx(550), fy(1533), "Tiempo (min)", ha="center", va="center",
         fontsize=16, fontweight="bold")

# legend
handles, labels = [], []
for strain in STRAINS:
    for conc in CONCENTRATIONS:
        handles.append(Line2D([], [], color=STRAIN_STYLE[strain]["color"], lw=3.2,
                              **marker_kw(conc, strain, legend=True)))
        labels.append(conc)
fig.legend(handles, labels, loc="upper left", bbox_to_anchor=(fx(990), fy(235)),
           frameon=False, prop={"weight": "bold", "size": 15}, handlelength=2.5,
           handletextpad=0.25, labelspacing=1.29, borderaxespad=0, borderpad=0)

# strain group brackets
for (y0, y1) in [(235, 552), (572, 872), (888, 1205)]:
    fig.add_artist(Line2D([fx(1151), fx(1151)], [fy(y0), fy(y1)], transform=fig.transFigure,
                          color="black", lw=3.2))
fig.text(fx(1174), fy(378), "WT", rotation=270, ha="center", va="center",
         fontsize=15, fontweight="bold")
for y_tri, y_txt, name in [(665, 706, "pdr1"), (1012, 1053, "pdr3")]:
    fig.text(fx(1172), fy(y_tri), "△", rotation=270, ha="center", va="center",
             fontsize=11, fontweight="normal", color="#333333")
    fig.text(fx(1174), fy(y_txt), name, rotation=270, ha="center", va="center",
             fontsize=15, fontweight="bold", fontstyle="italic")

fig.savefig("out.png", dpi=100)
